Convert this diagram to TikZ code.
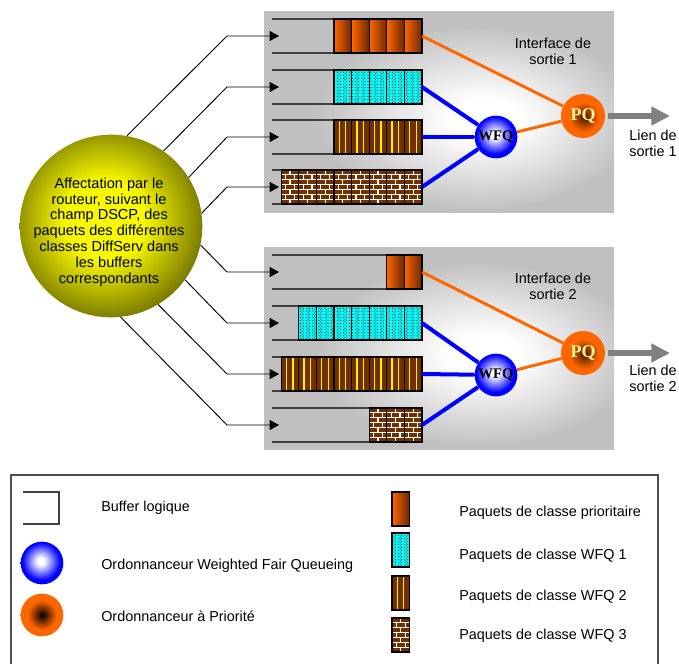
\documentclass[tikz,border=0pt]{standalone}
\usepackage{fontspec}
\setmainfont{Liberation Sans}
\newfontfamily\timesfont{Liberation Serif}
\usetikzlibrary{arrows.meta,patterns}

\definecolor{prioL}{HTML}{FF6600}
\definecolor{prioR}{HTML}{6A2700}
\definecolor{wfqcyan}{HTML}{00FFFF}
\definecolor{pbrown}{HTML}{723000}
\definecolor{linkorange}{HTML}{FF6600}
\definecolor{panelgray}{HTML}{C0C0C0}
\definecolor{ballyellow}{HTML}{F8F800}
\definecolor{ballolive}{HTML}{727200}
\definecolor{pqtext}{HTML}{FFF59A}
\definecolor{pqcore}{HTML}{4A1A00}
\definecolor{linkgray}{HTML}{808080}

% radial shadings for the panels and the round schedulers
% (the edge of the shaded path lies at a radius of 25bp)
\pgfdeclareradialshading{panelglow}{\pgfpoint{7bp}{-2bp}}{color(0bp)=(white); color(5bp)=(white); color(23bp)=(panelgray); color(100bp)=(panelgray)}
\pgfdeclareradialshading{affglow}{\pgfpoint{-2bp}{2bp}}{color(0bp)=(ballyellow); color(11bp)=(ballyellow); color(28bp)=(ballolive); color(100bp)=(ballolive)}
\pgfdeclareradialshading{wfqglow}{\pgfpoint{-1.5bp}{2.5bp}}{color(0bp)=(white); color(4bp)=(white); color(22bp)=(blue); color(100bp)=(blue)}
\pgfdeclareradialshading{pqmain}{\pgfpoint{1.5bp}{-1.5bp}}{color(0bp)=(pqcore); color(17bp)=(linkorange); color(100bp)=(linkorange)}
\pgfdeclareradialshading{pqlegend}{\pgfpoint{0bp}{0bp}}{color(0bp)=(black); color(17bp)=(linkorange); color(100bp)=(linkorange)}

% dotted fill of the WFQ 1 packets
\pgfdeclarepatternformonly{cyandots}{\pgfpoint{-0.5pt}{-0.5pt}}{\pgfpoint{0.5pt}{0.5pt}}{\pgfpoint{2.3pt}{2.3pt}}{\pgfpathcircle{\pgfpointorigin}{0.45pt}\pgfusepath{fill}}
\pgfdeclarepatternformonly{reddots}{\pgfpoint{0.6pt}{0.6pt}}{\pgfpoint{1.7pt}{1.7pt}}{\pgfpoint{4.6pt}{2.3pt}}{\pgfpathcircle{\pgfpoint{1.15pt}{1.15pt}}{0.45pt}\pgfusepath{fill}}

\tikzset{
  pkt/.style={draw=black, line width=1pt},
  prio/.pic={
    \shade[left color=prioL, right color=prioR] (0,0) rectangle (17.6,34);
    \draw[pkt] (0,0) rectangle (17.6,34);
  },
  wfqone/.pic={
    \fill[wfqcyan] (0,0) rectangle (17.6,34);
    \fill[pattern=cyandots, pattern color=black!85] (0,0) rectangle (17.6,34);
    \fill[pattern=reddots, pattern color=red!75!black] (0,0) rectangle (17.6,34);
    \draw[pkt] (0,0) rectangle (17.6,34);
  },
  wfqtwo/.pic={
    \fill[pbrown] (0,0) rectangle (17.6,34);
    \draw[yellow, line width=1pt] (5.3,1) -- (5.3,33) (11.8,1) -- (11.8,33);
    \draw[pkt] (0,0) rectangle (17.6,34);
  },
  wfqthree/.pic={
    \fill[pbrown] (0,0) rectangle (17.6,34);
    \foreach \r in {1,...,6}{\draw[white, line width=0.8pt] (0,{\r*34/7}) -- (17.6,{\r*34/7});}
    \foreach \r in {0,2,4,6}{\draw[white, line width=0.8pt] (8.8,{\r*34/7}) -- (8.8,{(\r+1)*34/7});}
    \foreach \r in {1,3,5}{\draw[white, line width=0.8pt] (4.4,{\r*34/7}) -- (4.4,{(\r+1)*34/7}) (13.2,{\r*34/7}) -- (13.2,{(\r+1)*34/7});}
    \draw[pkt] (0,0) rectangle (17.6,34);
  },
}

% a row of packets filling a buffer from its right end
\newcommand\pktrow[3]{\foreach \i in {1,...,#2}{\pic at ({422-\i*17.6},{#3-17}) {#1};}}

\begin{document}
\begin{tikzpicture}[x=0.75pt, y=-0.75pt,
  feed/.style={draw=black, line width=0.7pt, -{Triangle[length=7pt,width=7.5pt]}},
  bufline/.style={draw=black!75, line width=1.1pt},
  wfqlink/.style={draw=blue, line width=3pt},
  pqlink/.style={draw=linkorange, line width=2.2pt},
  outlink/.style={draw=linkgray, line width=3.8pt, shorten <=2pt, -{Triangle[length=14pt,width=13.5pt]}},
  sans/.style={font=\fontsize{10.8}{12}\selectfont, align=center, inner sep=0pt},
  legtext/.style={font=\fontsize{10.8}{12}\selectfont, anchor=west, inner sep=0pt},
  affball/.style={circle, minimum size=137pt, inner sep=0pt, shade, shading=affglow},
  wfqnode/.style={circle, minimum size=32pt, inner sep=0pt, shade, shading=wfqglow, font=\timesfont\bfseries\fontsize{11}{11}\selectfont},
  pqnode/.style={circle, minimum size=33pt, inner sep=0pt, shade, shading=pqmain, text=pqtext, font=\timesfont\bfseries\fontsize{13.5}{13.5}\selectfont},
]
\useasboundingbox (0,0) rectangle (679,664);
\fill[white] (0,0) rectangle (679,664);

% output interfaces
\shade[shading=panelglow] (264,11) rectangle (614,212);
\shade[shading=panelglow] (264,247) rectangle (614,449);

% logical buffers
\foreach \y/\n in {36/a1,87/a2,137/a3,187/a4,272/b1,323/b2,374/b3,425/b4}{
  \coordinate (k\n) at (227,\y);
  \coordinate (in\n) at (279,\y);
  \coordinate (out\n) at (422,\y);
  \draw[bufline] (272,{\y-17}) -- (422,{\y-17}) (272,{\y+17}) -- (422,{\y+17});
}

% queued packets
\pktrow{prio}{5}{36}
\pktrow{wfqone}{5}{87}
\pktrow{wfqtwo}{5}{137}
\pktrow{wfqthree}{8}{187}
\pktrow{prio}{2}{272}
\pktrow{wfqone}{7}{323}
\pktrow{wfqtwo}{8}{374}
\pktrow{wfqthree}{3}{425}

% schedulers
\node[wfqnode] (wfq1) at (496,137) {WFQ};
\node[pqnode] (pq1) at (583,116) {PQ};
\node[wfqnode] (wfq2) at (496,375) {WFQ};
\node[pqnode] (pq2) at (583,353) {PQ};
\coordinate (lien1) at (670,116);
\coordinate (lien2) at (670,353);

% scheduler links
\draw[wfqlink] (outa2) -- (wfq1);
\draw[wfqlink] (outa3) -- (wfq1);
\draw[wfqlink] (outa4) -- (wfq1);
\draw[pqlink] (outa1) -- (pq1);
\draw[pqlink] (wfq1) -- (pq1);
\draw[outlink] (pq1) -- (lien1);
\draw[wfqlink] (outb2) -- (wfq2);
\draw[wfqlink] (outb3) -- (wfq2);
\draw[wfqlink] (outb4) -- (wfq2);
\draw[pqlink] (outb1) -- (pq2);
\draw[pqlink] (wfq2) -- (pq2);
\draw[outlink] (pq2) -- (lien2);

% classifier
\node[affball] (aff) at (111,226) {};
\node[sans, font=\fontsize{10.9}{11.85}\selectfont] (afftext) at (109,232)
  {Affectation par le\\routeur, suivant le\\champ DSCP, des\\paquets des différentes\\classes DiffServ dans\\les buffers\\correspondants};
\foreach \n/\a in {a1/80,a2/55.3,a3/32.9,a4/8.3,b1/-12,b2/-36.5,b3/-59.4,b4/-84.6}{
  \draw[feed] (aff.\a) -- (k\n) -- (in\n);
}

% labels
\node[sans] (if1) at (553,51) {Interface de\\sortie 1};
\node[sans] (if2) at (553,286) {Interface de\\sortie 2};
\node[sans] (ln1) at (653,143.5) {Lien de\\sortie 1};
\node[sans] (ln2) at (653,378.5) {Lien de\\sortie 2};

% legend
\draw[black!70, line width=1.1pt] (11,700) -- (11,475) -- (658,475) -- (658,700);
\draw[bufline] (23,492) -- (59,492) -- (59,524) -- (23,524);
\node[circle, minimum size=32pt, inner sep=0pt, shade, shading=wfqglow] (lwfq) at (42,563) {};
\node[circle, minimum size=32pt, inner sep=0pt, shade, shading=pqlegend] (lpq) at (42,615) {};
\node[legtext] (t1) at (101,508) {Buffer logique};
\node[legtext] (t2) at (101,566) {Ordonnanceur Weighted Fair Queueing};
\node[legtext] (t3) at (101,616) {Ordonnanceur à Priorité};
\pic at (392,492) {prio};
\pic at (392,533) {wfqone};
\pic at (392,576) {wfqtwo};
\pic at (392,618) {wfqthree};
\node[legtext] (t4) at (459,513) {Paquets de classe prioritaire};
\node[legtext] (t5) at (459,556) {Paquets de classe WFQ 1};
\node[legtext] (t6) at (459,597) {Paquets de classe WFQ 2};
\node[legtext] (t7) at (459,636) {Paquets de classe WFQ 3};
\end{tikzpicture}
\end{document}
